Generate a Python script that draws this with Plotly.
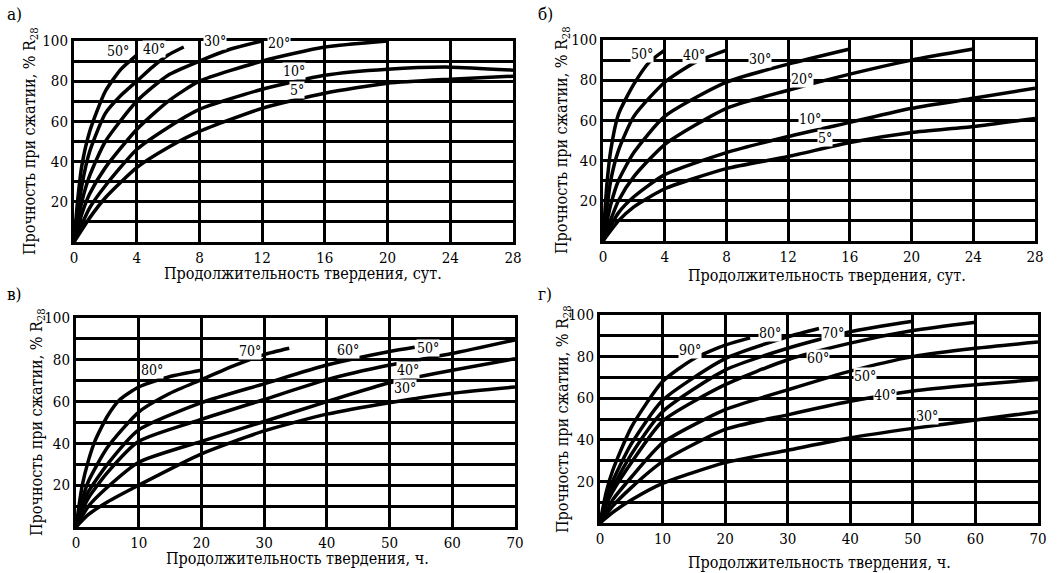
import plotly.graph_objects as go

# ---------------- data ----------------
# Panel а) days, 0..28
a_T50_x = [0, 0.25, 0.5, 1, 2, 3, 4]
a_T50_y = [0, 22, 38, 55, 75, 86, 93]
a_T40_x = [0, 0.5, 1, 2, 3, 4, 5, 6, 7]
a_T40_y = [0, 28, 45, 64, 73, 80, 87, 93, 97]
a_T30_x = [0, 0.5, 1, 2, 4, 6, 8, 10, 12]
a_T30_y = [0, 20, 33, 50, 70, 83, 90, 96, 100]
a_T20_x = [0, 0.5, 1, 2, 4, 6, 8, 12, 16, 20]
a_T20_y = [0, 14, 24, 37, 56, 70, 80, 90, 97, 100]
a_T10_x = [0, 1, 2, 4, 6, 8, 12, 16, 20, 24, 28]
a_T10_y = [0, 17, 28, 46, 57, 66, 76, 83, 86, 87, 85.5]
a_T5_x = [0, 1, 2, 4, 6, 8, 12, 16, 20, 24, 28]
a_T5_y = [0, 12, 22, 37, 47, 55, 66.5, 74, 79, 81, 82.5]

# Panel б) days, 0..28
b_T50_x = [0, 0.25, 0.5, 1, 2, 3, 4]
b_T50_y = [0, 28, 45, 63, 78, 89, 95]
b_T40_x = [0, 0.5, 1, 2, 4, 6, 8]
b_T40_y = [0, 30, 45, 62, 79, 89, 95]
b_T30_x = [0, 0.5, 1, 2, 4, 8, 12, 16]
b_T30_y = [0, 18, 30, 44, 62, 79, 88, 95.5]
b_T20_x = [0, 1, 2, 4, 8, 12, 16, 20, 24]
b_T20_y = [0, 20, 32, 48, 66, 75, 83, 90, 95.5]
b_T10_x = [0, 1, 2, 4, 8, 12, 16, 20, 24, 28]
b_T10_y = [0, 14, 22, 33, 44, 52, 59, 66, 71, 76]
b_T5_x = [0, 1, 2, 4, 8, 12, 16, 20, 24, 28]
b_T5_y = [0, 10, 17, 26, 36, 42, 49, 54, 57, 61]

# Panel в) hours, 0..70
c_T80_x = [0, 1, 2, 3, 5, 7, 10, 15, 20]
c_T80_y = [0, 20, 32, 41, 53, 61, 67, 72, 75]
c_T70_x = [0, 1, 2, 5, 10, 15, 20, 25, 30, 34]
c_T70_y = [0, 13, 22, 38, 55, 64, 70.5, 77, 82.5, 85.5]
c_T60_x = [0, 1, 2, 5, 10, 20, 30, 40, 50, 54]
c_T60_y = [0, 10, 17, 30, 46.5, 59.5, 68.5, 77.5, 84, 86]
c_T50_x = [0, 1, 2, 5, 10, 20, 30, 40, 50, 60, 70]
c_T50_y = [0, 8, 14, 26, 41, 51.5, 61, 70.5, 77.5, 83, 89.5]
c_T40_x = [0, 2, 5, 10, 20, 30, 40, 50, 60, 70]
c_T40_y = [0, 10, 19, 31, 41, 50.5, 60, 69, 75, 80.5]
c_T30_x = [0, 2, 5, 10, 20, 30, 40, 50, 60, 70]
c_T30_y = [0, 6, 12, 20, 35, 46, 54, 59.5, 64, 67]

# Panel г) hours, 0..70
d_T90_x = [0, 1, 2, 5, 10, 15, 20, 24]
d_T90_y = [0, 15, 25, 46, 68, 79, 85.5, 89]
d_T80_x = [0, 1, 2, 5, 10, 20, 30, 35]
d_T80_y = [0, 12, 20, 38, 59, 79, 89.5, 93.5]
d_T70_x = [0, 1, 2, 5, 10, 20, 30, 40, 50]
d_T70_y = [0, 10, 17, 33, 53.5, 73.5, 84, 92, 97]
d_T60_x = [0, 1, 2, 5, 10, 20, 30, 40, 50, 60]
d_T60_y = [0, 9, 15, 29, 49, 66.5, 78.5, 86.5, 92.5, 96.5]
d_T50_x = [0, 2, 5, 10, 20, 30, 40, 50, 60, 70]
d_T50_y = [0, 11, 22, 38.5, 54.5, 64, 73, 80, 84, 87]
d_T40_x = [0, 2, 5, 10, 20, 30, 40, 50, 60, 70]
d_T40_y = [0, 8, 17, 29.5, 45, 52, 58.5, 63.5, 66.5, 69]
d_T30_x = [0, 2, 5, 10, 20, 30, 40, 50, 60, 70]
d_T30_y = [0, 5, 11, 19, 29, 35, 41, 45.5, 49.5, 53.5]

# curve labels: (text, x, y)
a_labels = [("50°", 2.8, 95), ("40°", 5.1, 96), ("30°", 9.0, 100),
            ("20°", 13.1, 99), ("10°", 14.0, 85), ("5°", 14.2, 75.5)]
b_labels = [("50°", 2.5, 93), ("40°", 5.9, 92.7), ("30°", 10.2, 90.5),
            ("20°", 12.9, 80.5), ("10°", 13.4, 60.5), ("5°", 14.4, 51.3)]
c_labels = [("80°", 12.1, 75.3), ("70°", 27.8, 84.4), ("60°", 43.4, 84.8),
            ("50°", 56.2, 85.6), ("40°", 53.0, 75.3), ("30°", 52.5, 66.5)]
d_labels = [("90°", 14.4, 83.2), ("80°", 27.2, 91.2), ("70°", 37.3, 91.5),
            ("60°", 34.9, 79.2), ("50°", 42.4, 70.7), ("40°", 45.6, 61.6),
            ("30°", 52.2, 51.5)]

x_ticks_days = [0, 4, 8, 12, 16, 20, 24, 28]
x_ticks_hours = [0, 10, 20, 30, 40, 50, 60, 70]
y_ticks = [20, 40, 60, 80, 100]
y_grid = [0, 10, 20, 30, 40, 50, 60, 70, 80, 90, 100]

y_title = "Прочность при сжатии, % R<sub>28</sub>"
x_title_days = "Продолжительность твердения, сут."
x_title_hours = "Продолжительность твердения, ч."
panel_names = ["а)", "б)", "в)", "г)"]

# ---------------- figure ----------------
W, H = 1059, 573
FONT = "DejaVu Serif Condensed, DejaVu Serif"
TS = 15   # tick size
XS = 16   # x title size
YS = 16   # y title size
CS = 14   # curve label size
fig = go.Figure()

panels = [
    ("x", "y", [(a_T50_x, a_T50_y), (a_T40_x, a_T40_y), (a_T30_x, a_T30_y),
                (a_T20_x, a_T20_y), (a_T10_x, a_T10_y), (a_T5_x, a_T5_y)], a_labels),
    ("x2", "y2", [(b_T50_x, b_T50_y), (b_T40_x, b_T40_y), (b_T30_x, b_T30_y),
                  (b_T20_x, b_T20_y), (b_T10_x, b_T10_y), (b_T5_x, b_T5_y)], b_labels),
    ("x3", "y3", [(c_T80_x, c_T80_y), (c_T70_x, c_T70_y), (c_T60_x, c_T60_y),
                  (c_T50_x, c_T50_y), (c_T40_x, c_T40_y), (c_T30_x, c_T30_y)], c_labels),
    ("x4", "y4", [(d_T90_x, d_T90_y), (d_T80_x, d_T80_y), (d_T70_x, d_T70_y),
                  (d_T60_x, d_T60_y), (d_T50_x, d_T50_y), (d_T40_x, d_T40_y),
                  (d_T30_x, d_T30_y)], d_labels),
]

for xa, ya, curves, labels in panels:
    for cx, cy in curves:
        fig.add_trace(go.Scatter(x=cx, y=cy, mode="lines", xaxis=xa, yaxis=ya,
                                 line=dict(color="black", width=3.5, shape="spline", smoothing=0.6),
                                 showlegend=False, hoverinfo="skip", cliponaxis=False))
    for t, lx, ly in labels:
        fig.add_annotation(text=t, x=lx, y=ly, xref=xa, yref=ya, showarrow=False,
                           xanchor="center", yanchor="middle",
                           font=dict(family=FONT, size=CS, color="black"),
                           bgcolor="white", borderpad=0)

# domains in pixels: (left, right, top, bottom)
px = [(74, 513, 41, 242), (603, 1035, 40, 241), (76, 515, 318, 527), (600, 1038, 315, 523)]

def dom(p):
    l, r, t, b = p
    return [l / W, r / W], [1 - b / H, 1 - t / H]

layout = {}
names = [("xaxis", "yaxis"), ("xaxis2", "yaxis2"), ("xaxis3", "yaxis3"), ("xaxis4", "yaxis4")]
for i, (xn, yn) in enumerate(names):
    xd, yd = dom(px[i])
    days = i < 2
    xt = x_ticks_days if days else x_ticks_hours
    xr = [0, 28] if days else [0, 70]
    layout[xn] = dict(domain=xd, range=xr, tickmode="array", tickvals=xt,
                      ticktext=[str(v) for v in xt], showgrid=True, gridcolor="black",
                      gridwidth=2.5, showline=True, linecolor="black", linewidth=3,
                      mirror=True, zeroline=False, ticks="", ticklen=0, automargin=False,
                      tickfont=dict(family=FONT, size=TS, color="black"),
                      anchor="y" if i == 0 else "y%d" % (i + 1), fixedrange=True)
    layout[yn] = dict(domain=yd, range=[0, 100], tickmode="array", tickvals=y_ticks,
                      ticktext=[str(v) for v in y_ticks], showgrid=True, gridcolor="black",
                      gridwidth=2.5, showline=True, linecolor="black", linewidth=3,
                      minor=dict(tickmode="array", tickvals=y_grid, showgrid=True,
                                 gridcolor="black", gridwidth=2.5, ticks=""),
                      mirror=True, zeroline=False, ticks="", automargin=False,
                      tickfont=dict(family=FONT, size=TS, color="black"),
                      anchor="x" if i == 0 else "x%d" % (i + 1), fixedrange=True)

fig.update_layout(width=W, height=H, margin=dict(l=0, r=0, t=0, b=0, autoexpand=False),
                  paper_bgcolor="white", plot_bgcolor="white", showlegend=False,
                  font=dict(family=FONT, color="black"), **layout)

# axis titles and panel letters (paper coords)
ytitle_pos = [(30, 141), (562, 140), (37, 422), (563, 419)]
xtitle_pos = [(303, 273, x_title_days), (827, 275, x_title_days),
              (297, 558, x_title_hours), (819, 562, x_title_hours)]
letter_pos = [(14, 14), (545, 14), (14, 294), (545, 294)]

for (yx, yy), (xx, xy, xt), (lx, ly), nm in zip(ytitle_pos, xtitle_pos, letter_pos, panel_names):
    fig.add_annotation(text=y_title, x=yx / W, y=1 - yy / H, xref="paper", yref="paper",
                       xanchor="center", yanchor="middle",
                       textangle=-90, showarrow=False,
                       font=dict(family=FONT, size=YS, color="black"))
    fig.add_annotation(text=xt, x=xx / W, y=1 - xy / H, xref="paper", yref="paper",
                       xanchor="center", yanchor="middle",
                       showarrow=False, font=dict(family=FONT, size=XS, color="black"))
    fig.add_annotation(text=nm, x=lx / W, y=1 - ly / H, xref="paper", yref="paper",
                       xanchor="center", yanchor="middle",
                       showarrow=False, font=dict(family=FONT, size=17, color="black"))

fig.write_html("out.html", config={"displayModeBar": False},
               post_script="document.body.style.margin='0';document.body.style.overflow='hidden';")
